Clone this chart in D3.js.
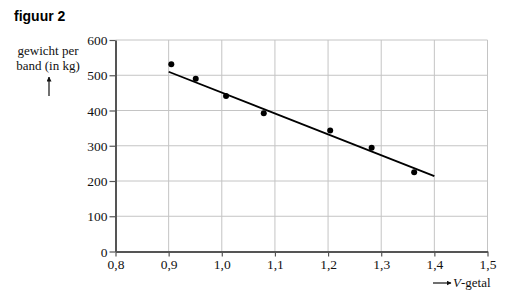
<!DOCTYPE html>
<html>
<head>
<meta charset="utf-8">
<script src="https://cdn.jsdelivr.net/npm/d3@7"></script>
<style>
  body { margin: 0; background: #fff; }
  svg { display: block; }
</style>
</head>
<body>
<svg id="chart" width="512" height="297"></svg>
<script>
// measured points (V-getal, gewicht per band in kg)
const vGetal = [0.905, 0.951, 1.008, 1.079, 1.204, 1.282, 1.362];
const gewicht = [531, 490, 441, 392, 343, 294, 225];
// trend line end points
const lineX = [0.9, 1.4];
const lineY = [510, 214];
const xTicks = [0.8, 0.9, 1.0, 1.1, 1.2, 1.3, 1.4, 1.5];
const yTicks = [0, 100, 200, 300, 400, 500, 600];

const SERIF = '"Liberation Serif", "DejaVu Serif", serif';

const svg = d3.select("#chart");
const x = d3.scaleLinear().domain([0.8, 1.5]).range([115.5, 487.5]);
const y = d3.scaleLinear().domain([0, 600]).range([251.5, 40]);

// title
svg.append("text")
    .attr("x", 14).attr("y", 21)
    .style("font-family", "Liberation Sans, Arial, sans-serif")
    .style("font-weight", "bold")
    .style("font-size", "14px")
    .text("figuur 2");

// grid
const grid = svg.append("g").attr("stroke", "#c4c4c4").attr("stroke-width", 1);
xTicks.slice(1).forEach(t => {
    grid.append("line").attr("x1", x(t)).attr("x2", x(t)).attr("y1", y(600)).attr("y2", y(0));
});
yTicks.slice(1).forEach(t => {
    grid.append("line").attr("x1", x(0.8)).attr("x2", x(1.5)).attr("y1", y(t)).attr("y2", y(t));
});

// axes
const fmt = d => d3.format(".1f")(d).replace(".", ",");
const xAxis = svg.append("g")
    .attr("transform", `translate(0,${y(0)})`)
    .call(d3.axisBottom(x).tickValues(xTicks).tickFormat(fmt).tickSize(5).tickSizeOuter(0));
const yAxis = svg.append("g")
    .attr("transform", `translate(${x(0.8)},0)`)
    .call(d3.axisLeft(y).tickValues(yTicks).tickSize(6).tickSizeOuter(0));
[xAxis, yAxis].forEach(a => {
    a.attr("font-family", SERIF).attr("font-size", 13);
    a.select(".domain").attr("stroke", "#555").attr("stroke-width", 2);
    a.selectAll(".tick line").attr("stroke", "#555").attr("stroke-width", 1.2);
    a.selectAll("text")
        .style("font-family", SERIF)
        .style("font-size", "13.5px")
        .attr("fill", "#111");
});
xAxis.selectAll("text").attr("y", 8);
yAxis.selectAll("text").attr("x", -8).attr("dy", "0.35em");

// trend line
svg.append("line")
    .attr("x1", x(lineX[0])).attr("y1", y(lineY[0]))
    .attr("x2", x(lineX[1])).attr("y2", y(lineY[1]))
    .attr("stroke", "#000").attr("stroke-width", 1.8);

// points
svg.selectAll(".pt")
    .data(vGetal)
    .enter().append("circle")
    .attr("class", "pt")
    .attr("cx", d => x(d))
    .attr("cy", (d, i) => y(gewicht[i]))
    .attr("r", 3)
    .attr("fill", "#000");

// y label
const yl = svg.append("text")
    .style("font-family", SERIF)
    .attr("text-anchor", "middle").style("font-size", "13px").attr("fill", "#111");
yl.append("tspan").attr("x", 48).attr("y", 55).text("gewicht per");
yl.append("tspan").attr("x", 48).attr("y", 70).text("band (in kg)");

// arrows
svg.append("defs").append("marker")
    .attr("id", "arr").attr("viewBox", "0 0 10 10")
    .attr("refX", 9).attr("refY", 5)
    .attr("markerWidth", 5).attr("markerHeight", 5)
    .attr("markerUnits", "userSpaceOnUse")
    .attr("orient", "auto")
    .append("path").attr("d", "M0,0 L10,5 L0,10 z").attr("fill", "#111");

svg.append("line")
    .attr("x1", 49).attr("y1", 96).attr("x2", 49).attr("y2", 77)
    .attr("stroke", "#111").attr("stroke-width", 1.2)
    .attr("marker-end", "url(#arr)");

svg.append("line")
    .attr("x1", 433).attr("y1", 283).attr("x2", 451).attr("y2", 283)
    .attr("stroke", "#111").attr("stroke-width", 1.2)
    .attr("marker-end", "url(#arr)");

const xl = svg.append("text")
    .style("font-family", SERIF)
    .attr("x", 453).attr("y", 287).style("font-size", "13px").attr("fill", "#111");
xl.append("tspan").style("font-style", "italic").text("V");
xl.append("tspan").text("-getal");
</script>
</body>
</html>
